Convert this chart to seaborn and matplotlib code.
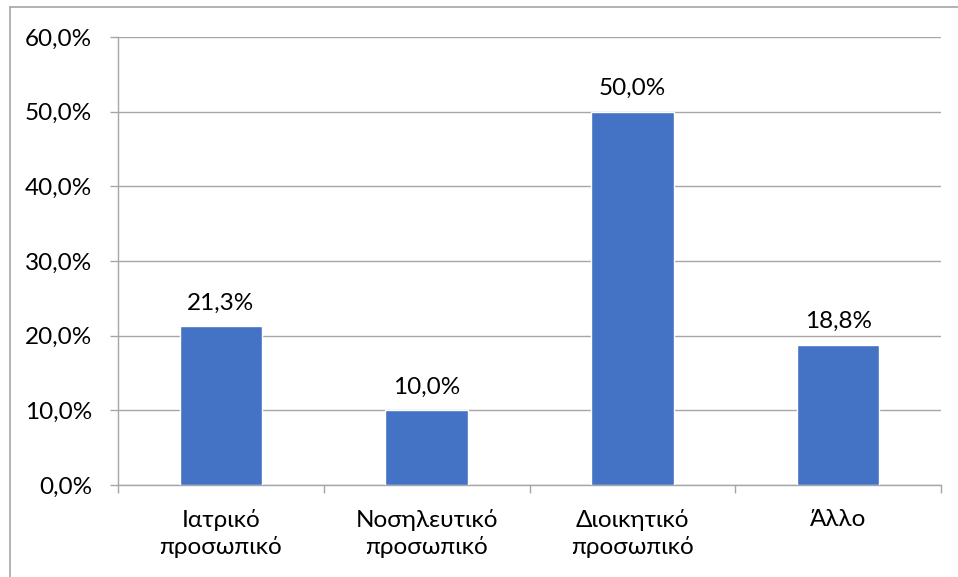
import matplotlib
matplotlib.use("Agg")
import matplotlib.pyplot as plt
from matplotlib.lines import Line2D
from matplotlib.ticker import FixedLocator, FuncFormatter
import seaborn as sns
import pandas as pd

# Staff category and share of respondents (%)
categories = ["Ιατρικό\nπροσωπικό", "Νοσηλευτικό\nπροσωπικό", "Διοικητικό\nπροσωπικό", "Άλλο"]
values = [21.3, 10.0, 50.0, 18.8]
y_ticks = [0, 10, 20, 30, 40, 50, 60]

BAR_COLOR = "#4472C4"
GRID_COLOR = "#A6A6A6"
TEXT_COLOR = "#000000"
FS = 17.5

sns.set_theme(style="white")
plt.rcParams["font.family"] = ["Lato", "Open Sans", "DejaVu Sans"]
plt.rcParams["font.size"] = FS

W, H = 958, 577
fig = plt.figure(figsize=(W / 100, H / 100), dpi=100)
fig.patch.set_facecolor("white")

# plot area in pixel coordinates
left, right, top, bottom = 118, 941, 37, 485
ax = fig.add_axes([left / W, 1 - bottom / H, (right - left) / W, (bottom - top) / H])

df = pd.DataFrame({"category": categories, "value": values})
sns.barplot(data=df, x="category", y="value", color=BAR_COLOR, width=0.4,
            saturation=1, ax=ax, zorder=3)

ax.set_xlim(-0.5, len(categories) - 0.5)
ax.set_ylim(0, 60)
ax.set_xlabel("")
ax.set_ylabel("")

# horizontal gridlines
ax.yaxis.set_major_locator(FixedLocator(y_ticks))
ax.yaxis.set_major_formatter(FuncFormatter(lambda v, _: f"{v:.1f}%".replace(".", ",")))
ax.grid(axis="y", color=GRID_COLOR, linewidth=1, zorder=0)
ax.grid(axis="x", visible=False)

for side in ["top", "right"]:
    ax.spines[side].set_visible(False)
for side in ["left", "bottom"]:
    ax.spines[side].set_color(GRID_COLOR)
    ax.spines[side].set_linewidth(1)

ax.tick_params(axis="y", which="major", direction="out", length=5.8, width=1,
               color=GRID_COLOR, pad=13, labelsize=FS, labelcolor=TEXT_COLOR, left=True)
ax.tick_params(axis="x", which="major", length=0, pad=17, labelsize=FS, labelcolor=TEXT_COLOR)

# small tick marks between categories
ax.xaxis.set_minor_locator(FixedLocator([i - 0.5 for i in range(len(categories) + 1)]))
ax.tick_params(axis="x", which="minor", direction="out", length=5.5, width=1,
               color=GRID_COLOR, bottom=True)
for lbl in ax.get_xticklabels():
    lbl.set_linespacing(1.3)

# value labels above bars
ax.bar_label(ax.containers[0],
             labels=[f"{v:.1f}%".replace(".", ",") for v in values],
             padding=9, fontsize=FS, color=TEXT_COLOR)

# chart frame (top and left edges)
fig.add_artist(Line2D([10 / W, 1], [1 - 7 / H, 1 - 7 / H], transform=fig.transFigure,
                      color=GRID_COLOR, linewidth=1.2))
fig.add_artist(Line2D([10 / W, 10 / W], [0, 1 - 7 / H], transform=fig.transFigure,
                      color=GRID_COLOR, linewidth=1.2))

fig.savefig("out.png", dpi=100)
